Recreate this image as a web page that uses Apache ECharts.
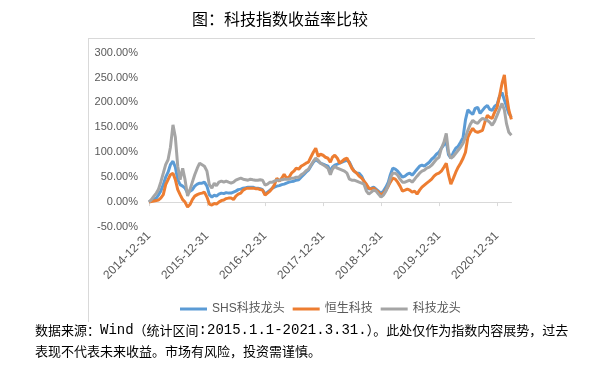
<!DOCTYPE html>
<html>
<head>
<meta charset="utf-8">
<script src="https://cdn.jsdelivr.net/npm/echarts@6/dist/echarts.min.js"></script>
<style>
html,body{margin:0;padding:0;background:#fff;}
#c{width:596px;height:382px;}
</style>
</head>
<body>
<div id="c"></div>
<script>
// Semi-monthly observation dates from 2014-12-31 to 2021-03-31 (mid-month and month-end)
const seriesNames = ['SHS科技龙头', '恒生科技', '科技龙头'];
const yTicks = [-50, 0, 50, 100, 150, 200, 250, 300];
const xTickLabels = ['2014-12-31','2015-12-31','2016-12-31','2017-12-31','2018-12-31','2019-12-31','2020-12-31'];

// SHS科技龙头 cumulative return (%)
const shs = [
0,3,6,8,14,22,35,50,60,75,82,70,45,35,32,28,18,22,25,32,36,38,38,40,32,
15,10,14,12,16,18,17,19,18,18,20,22,25,26,28,29,30,30,30,28,28,27,25,16,
20,24,28,30,32,33,35,36,38,40,41,42,44,45,50,55,60,64,72,80,85,82,78,76,
74,72,62,70,74,76,78,80,82,84,80,70,62,58,58,52,42,34,26,28,30,26,22,18,
22,30,40,55,68,66,62,56,50,52,56,58,54,60,66,72,74,72,76,80,86,90,96,100,
108,115,122,95,88,100,108,112,120,130,165,185,180,176,188,190,178,184,190,194,186,184,192,196,
212,220,205,192,178,170];

// 恒生科技 cumulative return (%)
const hst = [
0,1,2,3,4,8,15,35,45,55,58,45,25,15,5,0,-10,-5,5,12,15,17,18,20,10,
-4,-6,-3,-4,0,3,4,7,8,8,5,12,16,18,24,27,28,28,28,27,27,25,24,14,
18,22,28,35,48,42,48,56,48,50,58,62,68,66,72,75,78,80,90,100,108,92,96,94,
90,88,80,90,94,88,78,82,86,88,78,68,62,58,52,48,42,36,28,26,28,24,20,14,
18,24,32,40,48,46,40,32,22,24,26,24,20,22,16,24,30,34,38,42,46,52,56,58,
62,70,78,55,36,48,60,70,78,88,100,130,140,148,142,140,142,144,160,174,170,168,180,190,
212,238,255,215,185,166];

// 科技龙头 cumulative return (%)
const kjlt = [
0,5,12,18,25,40,58,75,85,110,155,130,72,45,68,45,12,25,40,55,68,78,75,72,62,
35,28,38,33,40,42,40,42,40,38,40,44,46,48,46,45,44,46,45,44,44,45,44,34,
36,40,40,42,44,44,45,46,46,46,48,48,50,50,55,58,63,66,74,82,88,84,78,75,
72,68,55,66,72,68,66,64,62,58,46,44,44,42,40,38,36,22,16,20,24,22,16,10,
14,22,34,48,58,58,54,46,40,40,42,44,40,46,52,58,62,64,68,70,74,80,86,90,
108,120,138,100,88,92,98,104,110,118,130,144,156,164,160,158,164,168,166,164,160,154,162,174,
186,198,185,158,140,134];

// build the date list (15th and month-end of each month)
const dates = [];
for (let i = 0; i <= 150; i++) {
  const m = i / 2;
  let d;
  if (Number.isInteger(m)) {
    d = new Date(Date.UTC(2015, m, 0)); // month end
  } else {
    d = new Date(Date.UTC(2015, Math.ceil(m) - 1, 15));
  }
  dates.push(d);
}
const t0 = Date.UTC(2014, 11, 31);
const yearMs = 365.25 * 86400000;
const xs = dates.map(d => (d.getTime() - t0) / yearMs);

const colors = ['#5B9BD5', '#ED7D31', '#A5A5A5'];
const vals = [shs, hst, kjlt];

const chart = echarts.init(document.getElementById('c'), null, {renderer: 'canvas'});
const font = '"Liberation Sans", "Noto Sans CJK SC", sans-serif';
const cjk = '"Noto Sans CJK SC", sans-serif';
const mono = '"Liberation Mono", monospace';
chart.setOption({
  animation: false,
  backgroundColor: '#fff',
  title: {
    text: '图：科技指数收益率比较',
    left: 187, top: 6,
    textStyle: {fontSize: 16, fontWeight: 'normal', color: '#000', fontFamily: cjk}
  },
  color: colors,
  legend: {
    data: seriesNames,
    left: 175, top: 298,
    icon: 'rect', itemWidth: 27, itemHeight: 3, itemGap: 8,
    textStyle: {fontSize: 12, color: '#595959', fontFamily: font}
  },
  grid: {left: 149, right: 84.5, top: 52.6, bottom: 155, containLabel: false},
  xAxis: [{
    type: 'value', min: 0, max: 6.25, interval: 1,
    axisLine: {show: true, onZero: true, lineStyle: {color: '#D9D9D9', width: 1}},
    axisTick: {show: true, length: 4, lineStyle: {color: '#D9D9D9'}, customValues: [0,1,2,3,4,5,6]},
    axisLabel: {show: false},
    splitLine: {show: false}
  }, {
    type: 'value', min: 0, max: 6.25, interval: 1, position: 'bottom',
    axisLine: {show: false, onZero: false},
    axisTick: {show: false},
    splitLine: {show: false},
    axisLabel: {
      show: true, rotate: 45, margin: 7, fontSize: 12, color: '#595959', fontFamily: font,
      customValues: [0,1,2,3,4,5,6],
      formatter: v => xTickLabels[Math.round(v)]
    }
  }],
  yAxis: {
    type: 'value', min: -50, max: 300, interval: 50,
    axisLine: {show: false}, axisTick: {show: false}, splitLine: {show: false},
    axisLabel: {fontSize: 11, color: '#595959', fontFamily: font, margin: 11,
      formatter: v => v.toFixed(2) + '%'}
  },
  series: seriesNames.map((n, k) => ({
    name: n, type: 'line', xAxisIndex: 0, showSymbol: false, symbol: 'none',
    lineStyle: {width: 3, color: colors[k]},
    itemStyle: {color: colors[k]},
    data: xs.map((x, i) => [x, vals[k][i]])
  })),
  graphic: [
    {type: 'line', shape: {x1: 88, y1: 38.5, x2: 535, y2: 38.5}, style: {stroke: '#D9D9D9', lineWidth: 1}},
    {type: 'line', shape: {x1: 88.5, y1: 38, x2: 88.5, y2: 322}, style: {stroke: '#D9D9D9', lineWidth: 1}},
    {type: 'text', left: 35, top: 323, style: {
      text: '数据来源：{m|Wind}（统计区间{m|:2015.1.1-2021.3.31.}）。此处仅作为指数内容展势，过去',
      fontSize: 13, fill: '#000', fontFamily: cjk,
      rich: {m: {fontFamily: mono, fontSize: 14, fill: '#000'}}
    }},
    {type: 'text', left: 35, top: 345, style: {text: '表现不代表未来收益。市场有风险，投资需谨慎。', fontSize: 13, fill: '#000', fontFamily: cjk}}
  ]
});
</script>
</body>
</html>
